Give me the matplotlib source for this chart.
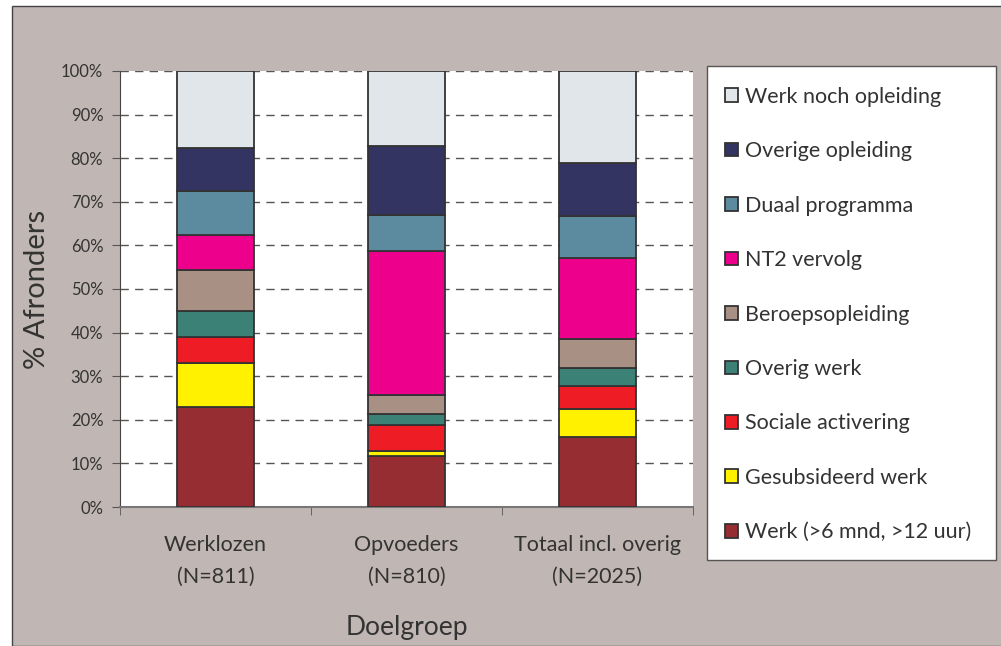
import matplotlib
matplotlib.use("Agg")
import matplotlib.pyplot as plt
from matplotlib.patches import Rectangle
import numpy as np

categories = ["Werklozen\n(N=811)", "Opvoeders\n(N=810)", "Totaal incl. overig\n(N=2025)"]
series_names = ["Werk (>6 mnd, >12 uur)", "Gesubsideerd werk", "Sociale activering",
                "Overig werk", "Beroepsopleiding", "NT2 vervolg", "Duaal programma",
                "Overige opleiding", "Werk noch opleiding"]
werk = [23.0, 11.6, 16.1]
gesubsideerd = [10.0, 1.2, 6.3]
sociale = [6.1, 6.0, 5.3]
overig_werk = [5.9, 2.5, 4.1]
beroeps = [9.4, 4.5, 6.8]
nt2 = [8.0, 33.0, 18.6]
duaal = [10.1, 8.1, 9.5]
overige_opl = [9.8, 15.8, 12.1]
werk_noch = [17.7, 17.3, 21.2]
series = [werk, gesubsideerd, sociale, overig_werk, beroeps, nt2, duaal, overige_opl, werk_noch]
colors = ["#962D32", "#FFF100", "#EE1C24", "#3B8175", "#A89085", "#EC008C",
          "#5C8BA0", "#333461", "#E1E6EA"]
yticks = [0, 10, 20, 30, 40, 50, 60, 70, 80, 90, 100]
ytick_labels = [f"{v}%" for v in yticks]

plt.rcParams['font.family'] = ['Lato', 'DejaVu Sans']
txt = "#333333"
bg = "#C0B6B3"

fig = plt.figure(figsize=(10.01, 6.46), dpi=100)
fig.patch.set_facecolor("white")
fig.patches.append(Rectangle((12/1001, 0), 1.0, (646-6)/646, transform=fig.transFigure,
                             facecolor=bg, edgecolor="#444444", linewidth=1.0, zorder=-10))

ax = fig.add_axes([120/1001, 1-507/646, 573/1001, 436/646])
ax.set_facecolor("white")
x = np.arange(len(categories))
bottom = np.zeros(len(categories))
handles = []
for vals, name, col in zip(series, series_names, colors):
    b = ax.bar(x, vals, bottom=bottom, width=0.4, color=col, edgecolor="#333333",
               linewidth=1.3, label=name, zorder=3)
    handles.append(b)
    bottom += np.array(vals)

ax.set_xlim(-0.5, len(categories) - 0.5)
ax.set_ylim(0, 100)
ax.set_yticks(yticks)
ax.set_yticklabels(ytick_labels, color=txt, fontsize=12)
ax.yaxis.grid(True, linestyle=(0, (6, 4.5)), color="#555555", linewidth=1.0, zorder=0)
ax.set_axisbelow(True)
ax.set_xticks(x)
ax.set_xticklabels(categories, color=txt, fontsize=15.5, linespacing=1.75)
ax.tick_params(axis='x', length=0, pad=20)
ax.set_xticks(np.arange(-0.5, len(categories)), minor=True)
ax.tick_params(axis='x', which='minor', length=6, color="#555555", direction='out')
ax.tick_params(axis='y', length=6, color="#555555", direction='out', pad=6)
for s in ["top", "right"]:
    ax.spines[s].set_visible(False)
ax.spines["left"].set_color("#444444")
ax.spines["bottom"].set_color("#777777")
ax.spines["bottom"].set_linewidth(1.5)
ax.set_ylabel("% Afronders", fontsize=21, color=txt, labelpad=8)
ax.set_xlabel("Doelgroep", fontsize=19, color=txt, labelpad=20)

# legend box
fig.patches.append(Rectangle((707/1001, 1-560/646), 289/1001, 494/646, transform=fig.transFigure,
                             facecolor="white", edgecolor="#555555", linewidth=1.0, zorder=1))
leg = fig.legend(handles[::-1], series_names[::-1], loc="upper left",
                 bbox_to_anchor=(714/1001, 1-76/646), frameon=False, fontsize=15.5,
                 handlelength=0.6, handleheight=0.6, handletextpad=0.35,
                 labelspacing=1.6, borderpad=0)
for t in leg.get_texts():
    t.set_color(txt)

fig.savefig("out.png", dpi=100, facecolor=fig.get_facecolor())
